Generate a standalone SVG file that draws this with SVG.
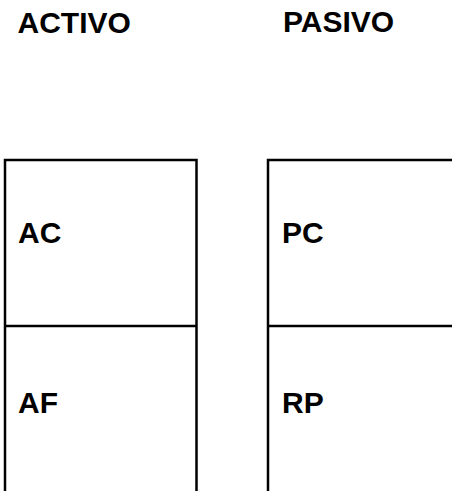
<svg xmlns="http://www.w3.org/2000/svg" width="452" height="491" viewBox="0 0 452 491">
<style>
.t{font-family:"Liberation Sans",Arial,sans-serif;font-weight:bold;font-size:30px;fill:#000}
.l{stroke:#000;stroke-width:2.5;fill:none}
</style>
<rect width="452" height="491" fill="#fff"/>
<g id="headers">
<text class="t" x="17.5" y="33">ACTIVO</text>
<text class="t" x="283" y="31.5">PASIVO</text>
</g>
<g id="connectors">
<path class="l" d="M5,491 V160 H196.5 V491"/>
<path class="l" d="M5,326 H196.5"/>
<path class="l" d="M268,491 V160 H452"/>
<path class="l" d="M268,326 H452"/>
</g>
<g id="AC"><text class="t" x="18" y="243">AC</text></g>
<g id="AF"><text class="t" x="18" y="412.5">AF</text></g>
<g id="PC"><text class="t" x="282" y="243">PC</text></g>
<g id="RP"><text class="t" x="282" y="412.5">RP</text></g>
</svg>
